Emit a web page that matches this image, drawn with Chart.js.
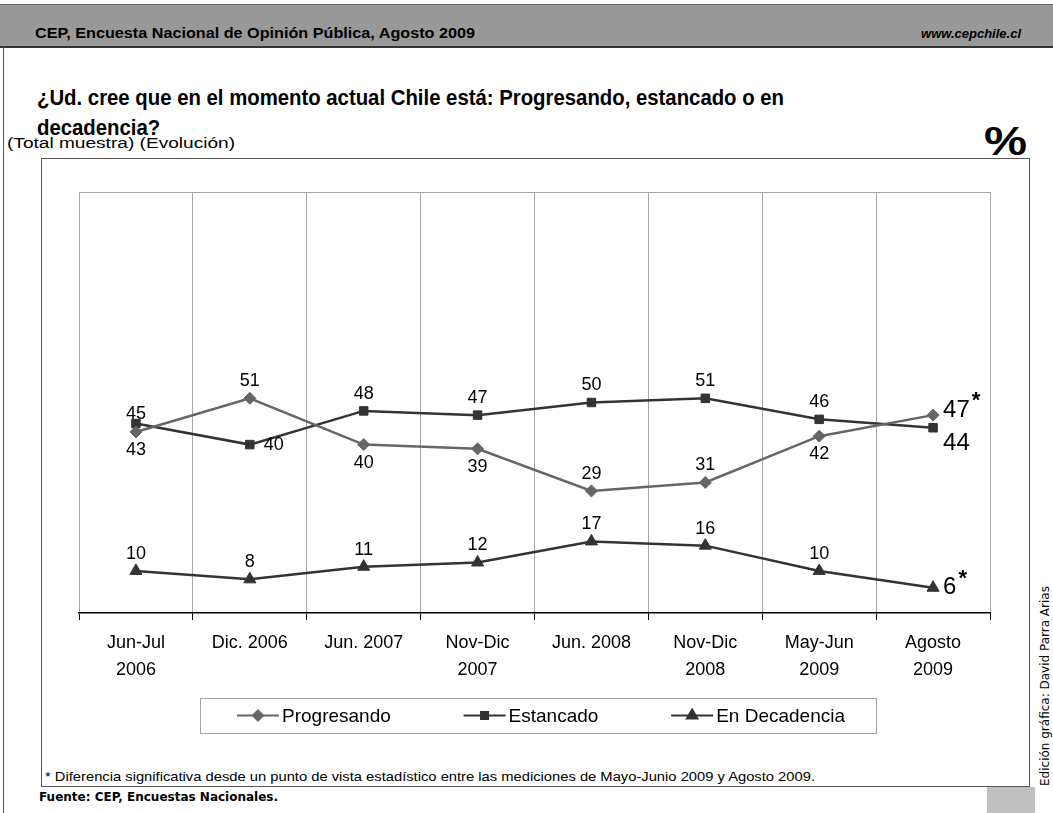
<!DOCTYPE html>
<html>
<head>
<meta charset="utf-8">
<script src="https://cdn.jsdelivr.net/npm/chart.js@4"></script>
<style>
  body { margin: 0; background: #fff; }
  #page { position: relative; width: 1053px; height: 813px; overflow: hidden; font-family: "Liberation Sans", Arial, sans-serif; }
  .abs { position: absolute; white-space: nowrap; }
  .fit { transform-origin: 0 50%; }
  #topbar { left: 0; top: 4px; width: 1053px; height: 41px; background: #999; border-top: 1px solid #666; border-bottom: 2px solid #333; }
  #frame { left: 3px; top: 47px; width: 0; height: 766px; border-left: 1px solid #555; }
  #box { left: 41px; top: 158px; width: 987px; height: 627px; border: 1px solid #555; }
  #myChart { position: absolute; left: 0; top: 0; }
</style>
</head>
<body>
<div id="page">
  <div id="topbar" class="abs"></div>
  <div class="abs fit" data-w="440" style="left:35px;top:25px;font-size:14px;font-weight:bold;">CEP, Encuesta Nacional de Opinión Pública, Agosto 2009</div>
  <div class="abs" style="right:32px;top:26px;font-size:13px;font-weight:bold;font-style:italic;">www.cepchile.cl</div>
  <div id="frame" class="abs"></div>
  <div class="abs fit" data-w="747" style="left:37px;top:83px;font-size:22px;font-weight:bold;line-height:30px;">¿Ud. cree que en el momento actual Chile está: Progresando, estancado o en<br>decadencia?</div>
  <div class="abs fit" data-w="228" style="left:7px;top:135px;font-size:14px;">(Total muestra) (Evolución)</div>
  <div class="abs fit" data-w="43" style="left:984px;top:119px;font-size:40px;font-weight:bold;">%</div>
  <div id="box" class="abs"></div>
  <div class="abs fit" data-w="770" style="left:45px;top:769px;font-size:13px;">* Diferencia significativa desde un punto de vista estadístico entre las mediciones de Mayo-Junio 2009 y Agosto 2009.</div>
  <div class="abs" style="left:39px;top:790px;font-size:12px;font-weight:bold;font-family:'DejaVu Sans',sans-serif;">Fuente: CEP, Encuestas Nacionales.</div>
  <div class="abs" style="left:987px;top:787px;width:48px;height:26px;background:#c0c0c0;"></div>
  <div class="abs" style="left:1038px;top:786px;font-size:12px;font-family:'DejaVu Sans',sans-serif;transform-origin:0 0;transform:rotate(-90deg);">Edición gráfica: David Parra Arias</div>
  <canvas id="myChart" width="1053" height="813"></canvas>
</div>
<script>
// stretch text blocks to the widths seen in the original
document.querySelectorAll('.fit').forEach(el => {
    const w = el.getBoundingClientRect().width;
    el.style.transform = 'scaleX(' + (Number(el.dataset.w) / w) + ')';
});

// data
const periods = [['Jun-Jul', '2006'], 'Dic. 2006', 'Jun. 2007', ['Nov-Dic', '2007'], 'Jun. 2008', ['Nov-Dic', '2008'], ['May-Jun', '2009'], ['Agosto', '2009']];
const progresando = [43, 51, 40, 39, 29, 31, 42, 47];
const estancado = [45, 40, 48, 47, 50, 51, 46, 44];
const decadencia = [10, 8, 11, 12, 17, 16, 10, 6];
// last measurement significantly different from May-Jun 2009
const significativo = [false, false, false, false, false, false, false, true];

// where each value label goes
const labelPos = [
    ['below', 'above', 'below', 'below', 'above', 'above', 'below', 'lastUp'],
    ['near', 'right', 'above', 'above', 'above', 'above', 'above', 'lastBelow'],
    ['above', 'above', 'above', 'above', 'above', 'above', 'above', 'lastMid']
];
const starred = [true, false, true];

const FONT = '"Liberation Sans", Arial, sans-serif';
const lastDy = { lastUp: -5, lastBelow: 16, lastMid: 0 };

// value labels
const valueLabels = {
    id: 'valueLabels',
    afterDatasetsDraw(chart) {
        const ctx = chart.ctx;
        ctx.save();
        ctx.fillStyle = '#000';
        chart.data.datasets.forEach((ds, di) => {
            const meta = chart.getDatasetMeta(di);
            meta.data.forEach((pt, i) => {
                const txt = String(ds.data[i]);
                const pos = labelPos[di][i];
                ctx.textBaseline = 'middle';
                if (pos in lastDy) {
                    ctx.font = '24px ' + FONT;
                    ctx.textAlign = 'left';
                    const x = pt.x + 10;
                    const y = pt.y + lastDy[pos];
                    ctx.fillText(txt, x, y);
                    if (starred[di] && significativo[i]) {
                        const w = ctx.measureText(txt).width;
                        ctx.font = 'bold 22px ' + FONT;
                        ctx.fillText('*', x + w + 2, y - 9);
                    }
                    return;
                }
                ctx.font = '18px ' + FONT;
                if (pos === 'right') {
                    ctx.textAlign = 'left';
                    ctx.fillText(txt, pt.x + 14, pt.y);
                } else {
                    ctx.textAlign = 'center';
                    let dy = pos === 'above' ? -17 : pos === 'near' ? -10 : 18;
                    ctx.fillText(txt, pt.x, pt.y + dy);
                }
            });
        });
        ctx.restore();
    }
};

// top border of plot + boxed legend
const extras = {
    id: 'extras',
    beforeDatasetsDraw(chart) {
        const { ctx, chartArea } = chart;
        ctx.save();
        ctx.strokeStyle = '#a6a6a6';
        ctx.lineWidth = 1;
        ctx.beginPath();
        ctx.moveTo(chartArea.left, chartArea.top + 0.5);
        ctx.lineTo(chartArea.right, chartArea.top + 0.5);
        ctx.stroke();
        ctx.restore();
    },
    afterDraw(chart) {
        const ctx = chart.ctx;
        const box = { x: 200, y: 698, w: 676, h: 35 };
        ctx.save();
        ctx.strokeStyle = '#a6a6a6';
        ctx.lineWidth = 1;
        ctx.strokeRect(box.x + 0.5, box.y + 0.5, box.w, box.h);
        ctx.font = '19px ' + FONT;
        const lineW = 42;
        const items = chart.data.datasets.map(ds => ({ ds, w: lineW + 3 + ctx.measureText(ds.label).width }));
        const sum = items.reduce((s, it) => s + it.w, 0);
        const padL = 37, padR = 31;
        const gap = (box.w - padL - padR - sum) / (items.length - 1);
        let x = box.x + padL;
        const cy = box.y + box.h / 2;
        items.forEach(it => {
            const ds = it.ds;
            ctx.strokeStyle = ds.borderColor;
            ctx.lineWidth = 2;
            ctx.beginPath();
            ctx.moveTo(x, cy);
            ctx.lineTo(x + lineW, cy);
            ctx.stroke();
            ctx.fillStyle = ds.backgroundColor;
            Chart.helpers.drawPoint(ctx, { pointStyle: ds.pointStyle, radius: ds.pointRadius - 1, borderWidth: 1, rotation: 0 }, x + lineW / 2, cy);
            ctx.fill();
            ctx.fillStyle = '#000';
            ctx.textAlign = 'left';
            ctx.textBaseline = 'middle';
            ctx.fillText(ds.label, x + lineW + 3, cy + 1);
            x += it.w + gap;
        });
        ctx.restore();
    }
};

const data = {
    labels: periods,
    datasets: [{
        label: 'Progresando',
        data: progresando,
        borderColor: '#666666',
        backgroundColor: '#666666',
        borderWidth: 2.5,
        pointStyle: 'rectRot',
        pointRadius: 6,
        pointBorderWidth: 1
    }, {
        label: 'Estancado',
        data: estancado,
        borderColor: '#333333',
        backgroundColor: '#333333',
        borderWidth: 2.5,
        pointStyle: 'rect',
        pointRadius: 6,
        pointBorderWidth: 1
    }, {
        label: 'En Decadencia',
        data: decadencia,
        borderColor: '#333333',
        backgroundColor: '#333333',
        borderWidth: 2.5,
        pointStyle: 'triangle',
        pointRadius: 7,
        pointBorderWidth: 1
    }]
};

const config = {
    type: 'line',
    data,
    options: {
        responsive: false,
        animation: false,
        layout: { padding: { left: 79, right: 63, top: 192, bottom: 130 } },
        plugins: { legend: { display: false }, tooltip: { enabled: false } },
        scales: {
            x: {
                offset: true,
                afterFit(scale) { scale.height = 70; },
                grid: { offset: true, color: '#a6a6a6', lineWidth: 1, drawTicks: true, tickLength: 7, tickColor: '#000' },
                border: { color: '#000', width: 1.5 },
                ticks: { color: '#000', font: { family: FONT, size: 18, lineHeight: 1.5 }, padding: 10, maxRotation: 0, autoSkip: false }
            },
            y: { display: false, min: 0, max: 100 }
        }
    },
    plugins: [valueLabels, extras]
};

const myChart = new Chart(document.getElementById('myChart'), config);
</script>
</body>
</html>
